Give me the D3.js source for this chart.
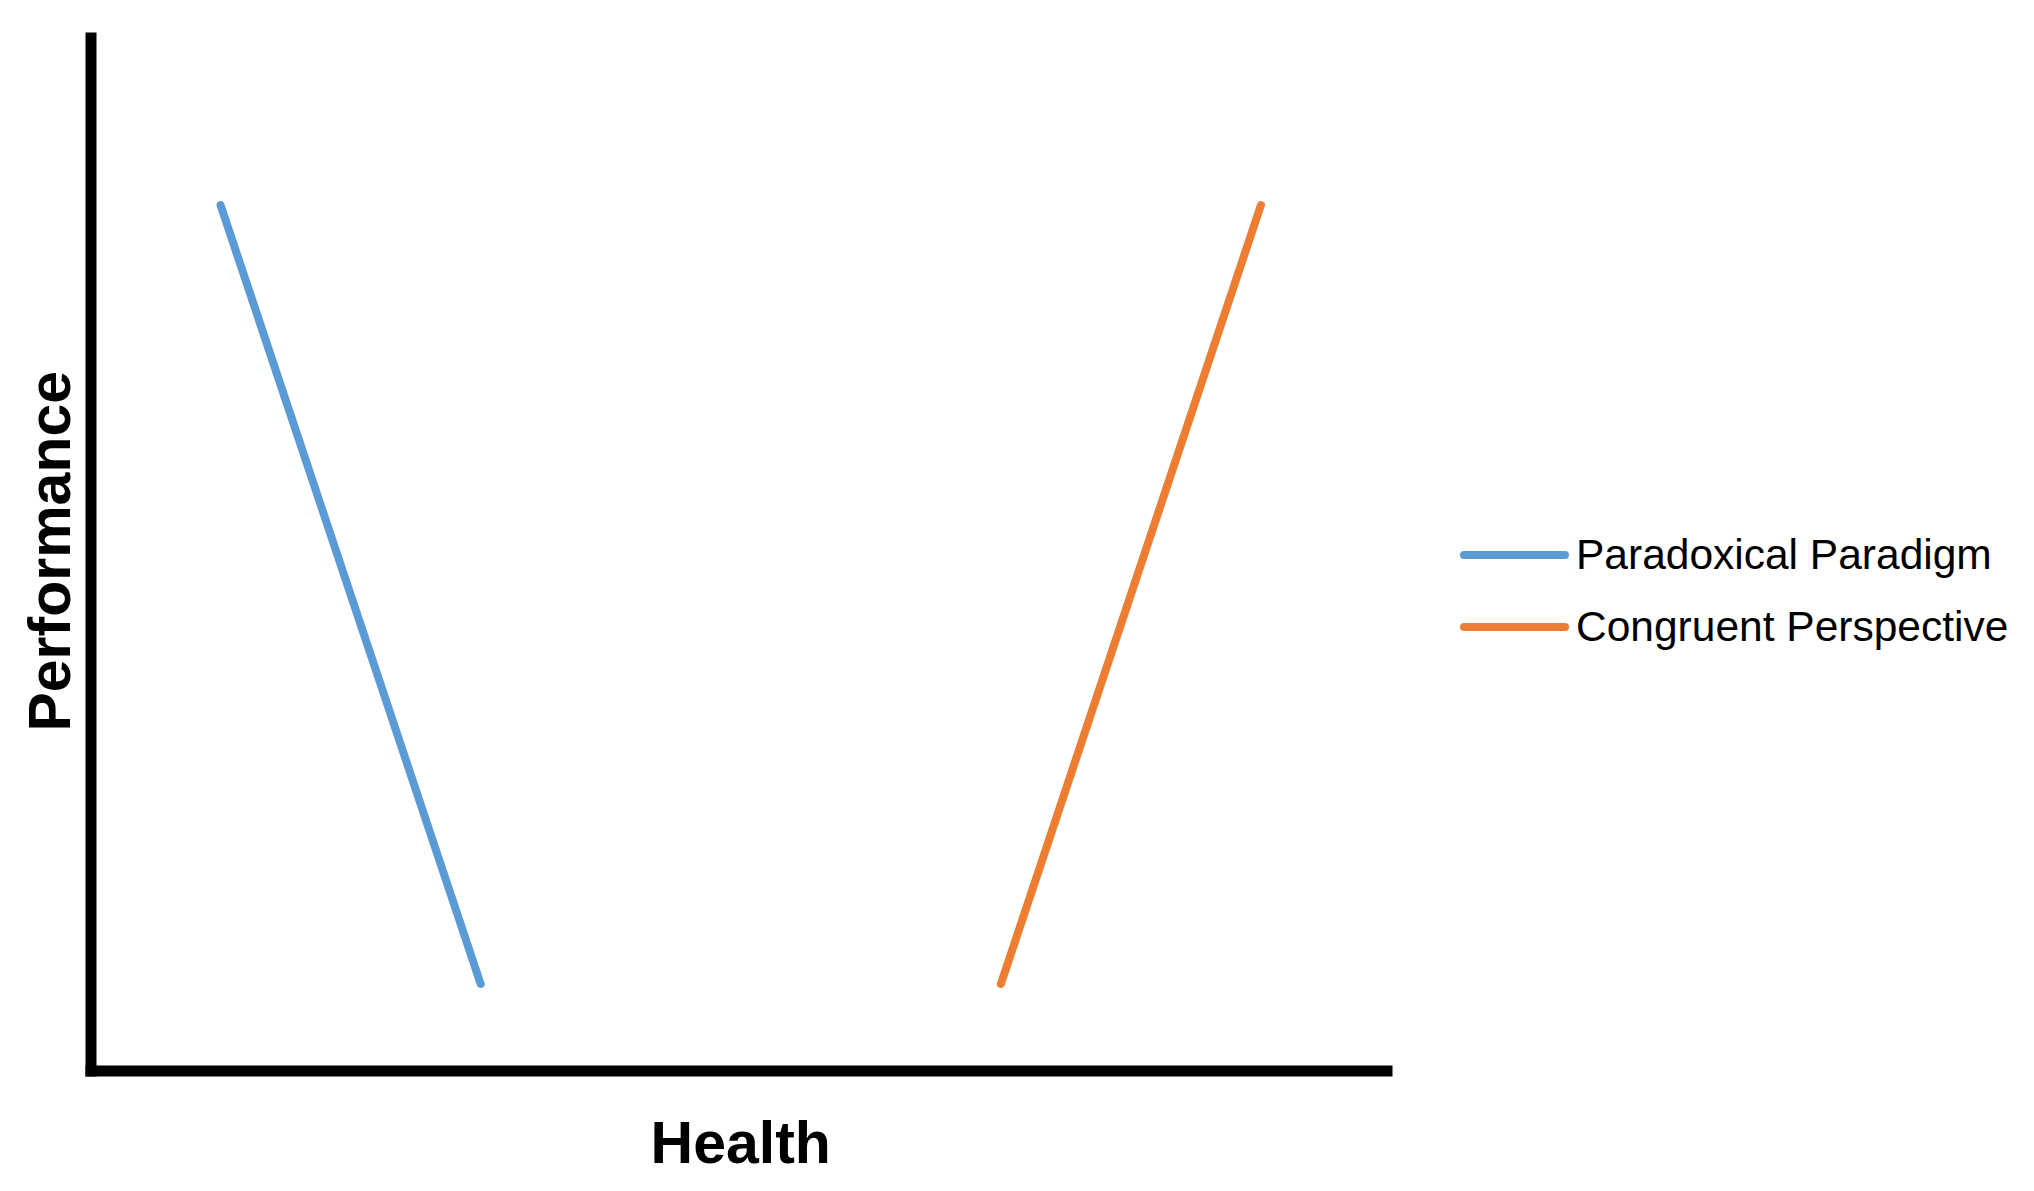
<!DOCTYPE html>
<html>
<head>
<meta charset="utf-8">
<script src="https://cdn.jsdelivr.net/npm/d3@7"></script>
<style>
  body { margin: 0; background: #fff; }
  text { font-family: "Liberation Sans", Arial, sans-serif; fill: #000; }
</style>
</head>
<body>
<div id="chart"></div>
<script>
// categories along Health (no tick labels shown)
const categories = ['1', '2', '3', '4', '5'];
const paradoxical = [10, 1, null, null, null];
const congruent = [null, null, null, 1, 10];
const seriesNames = ['Paradoxical Paradigm', 'Congruent Perspective'];
const seriesColors = ['#5b9bd5', '#ed7d31'];

const width = 2034, height = 1191;

let svg = d3.select('#chart').append('svg')
    .attr('width', width)
    .attr('height', height);

let x = d3.scaleBand()
    .domain(categories)
    .range([90.5, 1391]);

let y = d3.scaleLinear()
    .domain([0, 12])
    .range([1070.5, 32]);

// axes: only the heavy black domain lines, no ticks
let xAxis = d3.axisBottom(x.copy().range([85, 1392])).tickSize(0).tickFormat('');
let yAxis = d3.axisLeft(y.copy().range([1076, 32])).tickValues([]).tickSize(0);

svg.append('g')
    .attr('transform', `translate(0,${y(0)})`)
    .call(xAxis)
    .call(g => g.selectAll('.tick').remove())
    .call(g => g.select('.domain').attr('stroke', '#000').attr('stroke-width', 11));

svg.append('g')
    .attr('transform', `translate(${x.range()[0]},0)`)
    .call(yAxis)
    .call(g => g.select('.domain').attr('stroke', '#000').attr('stroke-width', 11));

// series lines
let line = d3.line()
    .defined(d => d.v !== null)
    .x(d => x(d.c) + x.bandwidth() / 2)
    .y(d => y(d.v));

[paradoxical, congruent].forEach((vals, i) => {
    let pts = categories.map((c, j) => ({c: c, v: vals[j]}));
    svg.append('path')
        .datum(pts)
        .attr('fill', 'none')
        .attr('stroke', seriesColors[i])
        .attr('stroke-width', 8)
        .attr('stroke-linecap', 'round')
        .attr('d', line);
});

// axis titles
svg.append('text')
    .attr('x', (x.range()[0] + x.range()[1]) / 2)
    .attr('y', 1163)
    .attr('text-anchor', 'middle')
    .style('font-size', '59px')
    .style('font-weight', 'bold')
    .text('Health');

svg.append('text')
    .attr('transform', `translate(70,${(y.range()[0] + y.range()[1]) / 2}) rotate(-90)`)
    .attr('text-anchor', 'middle')
    .style('font-size', '59px')
    .style('font-weight', 'bold')
    .text('Performance');

// legend
let legend = svg.append('g')
    .attr('transform', 'translate(1464,555)');

seriesNames.forEach((name, i) => {
    let row = legend.append('g').attr('transform', `translate(0,${i * 72})`);
    row.append('line')
        .attr('x1', 0).attr('x2', 101)
        .attr('y1', 0).attr('y2', 0)
        .attr('stroke', seriesColors[i])
        .attr('stroke-width', 8)
        .attr('stroke-linecap', 'round');
    row.append('text')
        .attr('x', 112)
        .attr('y', 14)
        .style('font-size', '42.5px')
        .text(name);
});
</script>
</body>
</html>
